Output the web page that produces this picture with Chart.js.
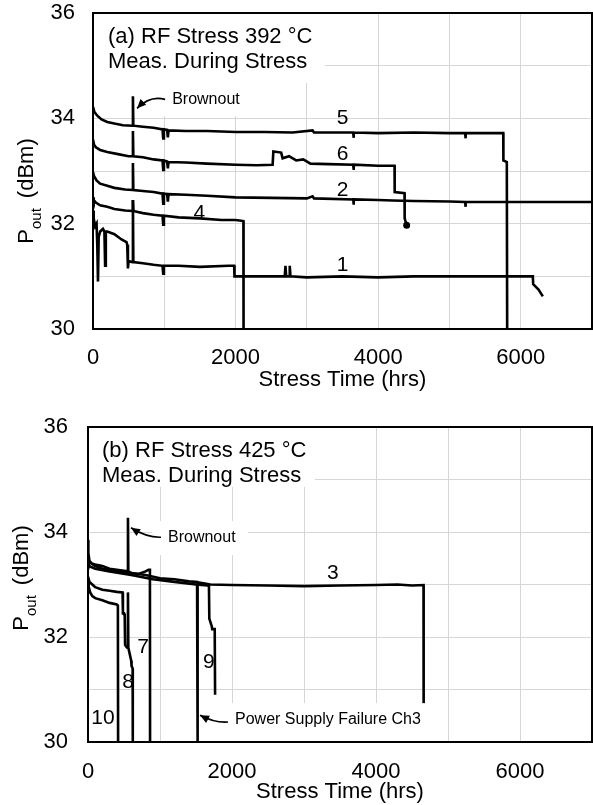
<!DOCTYPE html>
<html>
<head>
<meta charset="utf-8">
<script src="https://cdn.jsdelivr.net/npm/chart.js@4.4.1/dist/chart.umd.min.js"></script>
<style>
  html, body { margin: 0; padding: 0; background: #fff; }
  #wrap { position: relative; width: 593px; height: 805px; }
  canvas { position: absolute; left: 0; }
</style>
</head>
<body>
<div id="wrap">
  <canvas id="chartA" width="593" height="400" style="top:0px"></canvas>
  <canvas id="chartB" width="593" height="405" style="top:400px"></canvas>
</div>
<script>
// ---- panel (a): RF stress 392 °C, hours vs dBm ----
const a5x = [0, 20, 60, 120, 200, 300, 420, 555, 560, 566, 700, 850, 975, 985, 995, 1040, 1050, 1060, 1300, 1600, 2000, 2400, 2800, 3080, 3100, 3400, 3650, 3655, 3660, 4000, 4500, 5000, 5220, 5225, 5230, 5500, 5755, 5757, 5805, 5810];
const a5y = [34.22, 34.12, 34.05, 33.98, 33.93, 33.9, 33.87, 33.86, 34.42, 33.86, 33.84, 33.82, 33.79, 33.62, 33.79, 33.78, 33.64, 33.77, 33.76, 33.76, 33.74, 33.74, 33.73, 33.77, 33.73, 33.73, 33.73, 33.63, 33.73, 33.72, 33.73, 33.72, 33.72, 33.62, 33.72, 33.72, 33.72, 33.2, 33.17, 30];

const a6x = [0, 15, 40, 100, 200, 350, 500, 555, 560, 566, 700, 850, 975, 985, 995, 1040, 1050, 1060, 1300, 1600, 2000, 2300, 2520, 2530, 2640, 2660, 2750, 2850, 2950, 3050, 3300, 3650, 3655, 3660, 4000, 4230, 4232, 4370, 4372, 4400];
const a6y = [33.6, 33.5, 33.45, 33.4, 33.36, 33.32, 33.28, 33.28, 33.76, 33.28, 33.26, 33.22, 33.2, 33.02, 33.2, 33.18, 33.05, 33.17, 33.16, 33.14, 33.12, 33.11, 33.12, 33.37, 33.35, 33.24, 33.28, 33.2, 33.22, 33.14, 33.13, 33.12, 33.02, 33.12, 33.1, 33.1, 32.6, 32.58, 32.1, 31.97];

const a2x = [0, 15, 50, 100, 200, 300, 450, 555, 560, 566, 700, 850, 975, 985, 995, 1040, 1050, 1060, 1300, 1600, 2000, 2500, 3000, 3080, 3100, 3650, 3655, 3660, 4000, 4200, 4500, 5000, 5220, 5225, 5230, 5500, 6000, 6500, 7000];
const a2y = [32.98, 32.9, 32.82, 32.76, 32.72, 32.68, 32.65, 32.64, 33.15, 32.64, 32.62, 32.6, 32.57, 32.38, 32.57, 32.56, 32.42, 32.56, 32.55, 32.53, 32.5, 32.49, 32.48, 32.52, 32.48, 32.46, 32.36, 32.46, 32.45, 32.44, 32.43, 32.42, 32.41, 32.32, 32.41, 32.41, 32.41, 32.41, 32.41];

const a4x = [0, 10, 40, 100, 200, 300, 450, 555, 560, 566, 700, 850, 975, 985, 995, 1200, 1500, 1800, 2000, 2110, 2112];
const a4y = [32.5, 32.45, 32.4, 32.35, 32.32, 32.28, 32.25, 32.24, 32.45, 32.24, 32.2, 32.17, 32.15, 31.98, 32.15, 32.12, 32.1, 32.07, 32.07, 32.05, 30];

const a1x = [0, 10, 30, 50, 60, 70, 80, 100, 140, 160, 170, 180, 200, 300, 400, 470, 480, 490, 500, 520, 555, 560, 566, 700, 850, 975, 985, 995, 1200, 1500, 1900, 1980, 1985, 2300, 2600, 2690, 2700, 2710, 2750, 2760, 2770, 3000, 3500, 4000, 4500, 5000, 5500, 6000, 6170, 6175, 6250, 6310];
const a1y = [32.25, 32.1, 31.95, 32.0, 31.6, 30.9, 31.75, 31.85, 31.9, 31.85, 31.2, 31.85, 31.85, 31.8, 31.7, 31.65, 31.6, 31.15, 31.3, 31.28, 31.27, 32.45, 31.27, 31.25, 31.22, 31.2, 31.05, 31.2, 31.2, 31.18, 31.2, 31.2, 31.0, 31.0, 31.0, 31.0, 31.2, 31.0, 31.0, 31.2, 31.0, 30.98, 31.0, 30.98, 31.0, 31.0, 31.0, 31.0, 31.0, 30.85, 30.75, 30.62];

// ---- panel (b): RF stress 425 °C ----
const b3x = [0, 5, 20, 50, 100, 200, 300, 400, 550, 555, 560, 600, 800, 1000, 1200, 1400, 1515, 1520, 1525, 1700, 2000, 2500, 3000, 3500, 4000, 4300, 4500, 4660, 4662];
const b3y = [33.85, 33.6, 33.45, 33.4, 33.38, 33.35, 33.3, 33.28, 33.25, 34.27, 33.25, 33.22, 33.18, 33.12, 33.1, 33.06, 33.05, 30, 33.04, 33.0, 32.99, 32.98, 32.97, 32.98, 32.99, 33.0, 32.98, 32.99, 30];

const b7x = [0, 10, 50, 100, 200, 400, 550, 600, 700, 800, 840, 860, 862];
const b7y = [33.5, 33.45, 33.4, 33.35, 33.3, 33.25, 33.22, 33.22, 33.2, 33.25, 33.28, 33.28, 30];

const b9x = [0, 20, 100, 300, 600, 900, 1200, 1500, 1660, 1680, 1685, 1720, 1725, 1760, 1765];
const b9y = [33.4, 33.35, 33.3, 33.25, 33.18, 33.1, 33.05, 33.0, 32.98, 32.97, 32.35, 32.2, 32.15, 32.15, 30.9];

const b8x = [0, 20, 60, 100, 200, 300, 400, 480, 485, 500, 510, 515, 540, 550, 555, 560, 600, 605, 620, 622];
const b8y = [33.15, 33.05, 33.0, 32.95, 32.9, 32.88, 32.86, 32.85, 32.45, 32.45, 32.4, 31.85, 31.8, 31.8, 32.85, 31.8, 31.55, 31.45, 31.4, 30];

const b10x = [0, 10, 30, 60, 100, 200, 300, 400, 415, 418];
const b10y = [33.05, 32.95, 32.85, 32.78, 32.74, 32.7, 32.65, 32.62, 32.6, 30];

// axis ranges / ticks
const xMin = 0, xMax = 7000, xStep = 1000, xLabelEvery = 2000;
const yMin = 30, yMax = 36, yStep = 1, yLabelEvery = 2;

const FONT = 'Arial, "Liberation Sans", Helvetica, sans-serif';

// labels on the plot: [text, x, y]
const curveLabelsA = [['5', 3500, 34.0], ['6', 3500, 33.32], ['2', 3500, 32.64], ['1', 3500, 31.21], ['4', 1490, 32.2]];
const curveLabelsB = [['3', 3400, 33.22], ['7', 764, 31.81], ['8', 556, 31.14], ['9', 1680, 31.52], ['10', 208, 30.46]];

function pts(xs, ys) {
  return xs.map((x, i) => ({ x: x, y: ys[i] }));
}

function series(label, xs, ys, endDot) {
  return {
    label: label,
    data: pts(xs, ys),
    showLine: true,
    borderColor: '#000',
    backgroundColor: '#000',
    borderWidth: 2.6,
    tension: 0,
    pointRadius: ctx => (endDot && ctx.dataIndex === xs.length - 1 ? 2.2 : 0),
    pointHoverRadius: 0
  };
}

function arrow(ctx, x0, y0, cx, cy, x1, y1) {
  ctx.beginPath();
  ctx.moveTo(x0, y0);
  ctx.quadraticCurveTo(cx, cy, x1, y1);
  ctx.stroke();
  const ang = Math.atan2(y1 - cy, x1 - cx);
  const L = 9, W = 4;
  ctx.beginPath();
  ctx.moveTo(x1, y1);
  ctx.lineTo(x1 - L * Math.cos(ang) + W * Math.sin(ang), y1 - L * Math.sin(ang) - W * Math.cos(ang));
  ctx.lineTo(x1 - L * Math.cos(ang) - W * Math.sin(ang), y1 - L * Math.sin(ang) + W * Math.cos(ang));
  ctx.closePath();
  ctx.fill();
}

// draws the white label boxes, frame, panel title, curve numbers, notes and the P_out axis title
function panelPlugin(cfg) {
  return {
    id: 'panel',
    beforeDatasetsDraw(chart) {
      const { ctx, chartArea: a, scales: { x, y } } = chart;
      ctx.save();
      ctx.fillStyle = '#fff';
      cfg.underBoxes.forEach(b => {
        const l = Math.max(a.left + 1, x.getPixelForValue(b[0]));
        const t = Math.max(a.top + 1, y.getPixelForValue(b[1]));
        ctx.fillRect(l, t, x.getPixelForValue(b[2]) - l, y.getPixelForValue(b[3]) - t);
      });
      ctx.restore();
    },
    afterDatasetsDraw(chart) {
      const { ctx, chartArea: a, scales: { x, y } } = chart;
      const px = v => x.getPixelForValue(v);
      const py = v => y.getPixelForValue(v);
      ctx.save();
      ctx.fillStyle = '#fff';
      cfg.overBoxes.forEach(b => {
        ctx.fillRect(px(b[0]), py(b[1]), px(b[2]) - px(b[0]), Math.min(py(b[3]), a.bottom - 1) - py(b[1]));
      });

      // frame
      ctx.strokeStyle = '#000';
      ctx.lineWidth = 2;
      ctx.strokeRect(a.left, a.top, a.right - a.left, a.bottom - a.top);

      ctx.fillStyle = '#000';
      ctx.textAlign = 'left';
      ctx.textBaseline = 'alphabetic';
      ctx.font = '22px ' + FONT;
      cfg.title.forEach((t, i) => ctx.fillText(t, a.left + cfg.titleDx, a.top + cfg.titleDy + i * 25));

      ctx.font = '21px ' + FONT;
      ctx.textAlign = 'center';
      ctx.textBaseline = 'middle';
      cfg.curveLabels.forEach(l => ctx.fillText(l[0], px(l[1]), py(l[2])));

      ctx.textAlign = 'left';
      ctx.font = '16px ' + FONT;
      ctx.lineWidth = 1.6;
      cfg.notes.forEach(n => {
        ctx.fillText(n.text, px(n.at[0]), py(n.at[1]));
        arrow(ctx, px(n.tail[0]), py(n.tail[1]), px(n.ctrl[0]), py(n.ctrl[1]), px(n.tip[0]), py(n.tip[1]));
      });

      // y-axis title: P_out (dBm), rotated
      ctx.translate(cfg.yTitle[0], cfg.yTitle[1]);
      ctx.rotate(-Math.PI / 2);
      ctx.textAlign = 'left';
      ctx.textBaseline = 'alphabetic';
      const big = '22px ' + FONT, small = '15px ' + FONT;
      ctx.font = big;
      const wP = ctx.measureText('P').width;
      const wU = ctx.measureText('(dBm)').width;
      ctx.font = small;
      const wS = ctx.measureText('out').width;
      const gap = 10;
      const x0 = -(wP + wS + gap + wU) / 2;
      ctx.font = big;
      ctx.fillText('P', x0, 0);
      ctx.font = small;
      ctx.fillText('out', x0 + wP, 8);
      ctx.font = big;
      ctx.fillText('(dBm)', x0 + wP + wS + gap, 0);
      ctx.restore();
    }
  };
}

function makeChart(id, datasets, lay, cfg) {
  return new Chart(document.getElementById(id), {
    type: 'scatter',
    data: { datasets: datasets },
    options: {
      responsive: false,
      animation: false,
      events: [],
      layout: { autoPadding: false, padding: { left: 0, right: lay.right, top: lay.top, bottom: 0 } },
      plugins: { legend: { display: false }, tooltip: { enabled: false } },
      scales: {
        x: {
          type: 'linear', min: xMin, max: xMax,
          grid: { color: '#d6d6d6', lineWidth: 1, drawTicks: false },
          border: { color: '#000', width: 2 },
          ticks: {
            stepSize: xStep, autoSkip: false, maxRotation: 0, color: '#000',
            padding: lay.xTickPad, font: { family: FONT, size: 22 },
            callback: v => (v % xLabelEvery === 0 ? String(v) : '')
          },
          title: {
            display: true, text: 'Stress Time (hrs)', color: '#000',
            font: { family: FONT, size: 22 }, padding: { top: 0, bottom: lay.xTitlePad }
          },
          afterFit: s => { s.height = lay.xHeight; s.paddingLeft = 0; s.paddingRight = 0; }
        },
        y: {
          type: 'linear', min: yMin, max: yMax,
          grid: { color: '#d6d6d6', lineWidth: 1, drawTicks: false },
          border: { color: '#000', width: 2 },
          ticks: {
            stepSize: yStep, color: '#000', padding: lay.yTickPad,
            font: { family: FONT, size: 22 },
            callback: v => (v % yLabelEvery === 0 ? String(v) : '')
          },
          afterFit: s => { s.width = lay.yWidth; s.paddingTop = 0; s.paddingBottom = 0; }
        }
      }
    },
    plugins: [panelPlugin(cfg)]
  });
}

makeChart('chartA',
  [series('5', a5x, a5y), series('6', a6x, a6y, true), series('2', a2x, a2y),
   series('4', a4x, a4y), series('1', a1x, a1y)],
  { right: 1, top: 13, xHeight: 71, yWidth: 93, xTickPad: 16, xTitlePad: 7, yTickPad: 18 },
  {
    underBoxes: [[0, 36, 3258, 34.67], [618, 34.67, 2135, 34.04]],
    overBoxes: [],
    title: ['(a) RF Stress 392 °C', 'Meas. During Stress'],
    titleDx: 15, titleDy: 30,
    curveLabels: curveLabelsA,
    notes: [{ text: 'Brownout', at: [1110, 34.36], tail: [1011, 34.36], ctrl: [800, 34.44], tip: [618, 34.19] }],
    yTitle: [33, 191]
  });

makeChart('chartB',
  [series('3', b3x, b3y), series('7', b7x, b7y), series('9', b9x, b9y),
   series('8', b8x, b8y), series('10', b10x, b10y)],
  { right: 1, top: 27, xHeight: 63, yWidth: 88, xTickPad: 17, xTitlePad: 0, yTickPad: 20 },
  {
    underBoxes: [[0, 36, 3153, 34.86], [889, 34.21, 2222, 33.56]],
    overBoxes: [[1625, 30.74, 4694, 30]],
    title: ['(b) RF Stress 425 °C', 'Meas. During Stress'],
    titleDx: 14, titleDy: 30,
    curveLabels: curveLabelsB,
    notes: [
      { text: 'Brownout', at: [1111, 33.9], tail: [1014, 33.9], ctrl: [819, 33.89], tip: [597, 34.08] },
      { text: 'Power Supply Failure Ch3', at: [2042, 30.42], tail: [1944, 30.38], ctrl: [1764, 30.36], tip: [1556, 30.51] }
    ],
    yTitle: [28, 178]
  });
</script>
</body>
</html>
